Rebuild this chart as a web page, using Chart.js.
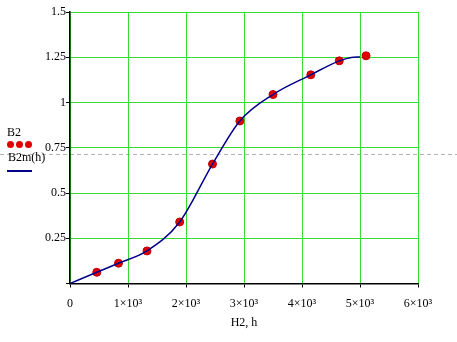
<!DOCTYPE html>
<html>
<head>
<meta charset="utf-8">
<script src="https://cdn.jsdelivr.net/npm/chart.js@4.4.1/dist/chart.umd.min.js"></script>
<style>
  body { margin: 0; background: #fff; }
  #wrap { position: relative; width: 457px; height: 342px; }
  #chart { position: absolute; left: 0; top: 0; }
  .lbl { position: absolute; font: 12px 'Liberation Serif', serif; color: #000; line-height: 12px; }
  .dot { position: absolute; width: 7px; height: 7px; border-radius: 50%; background: #e00000; }
  #pagebreak { position: absolute; left: 0; top: 154px; width: 457px; height: 1px;
    background: repeating-linear-gradient(to right, #b4b4b4 0 4px, transparent 4px 7px); }
  #curveKey { position: absolute; left: 7px; top: 170px; width: 25px; height: 1.5px; background: #00008b; }
</style>
</head>
<body>
<div id="wrap">
  <div id="pagebreak"></div>
  <canvas id="chart" width="457" height="342"></canvas>
  <div class="lbl" style="left:7px;top:126px;">B2</div>
  <div class="dot" style="left:7px;top:141px;"></div>
  <div class="dot" style="left:16px;top:141px;"></div>
  <div class="dot" style="left:25px;top:141px;"></div>
  <div class="lbl" style="left:8px;top:151px;">B2m(h)</div>
  <div id="curveKey"></div>
</div>
<script>
// measured points B2 vs H2
const h2 = [462, 836, 1327, 1891, 2457, 2929, 3500, 4152, 4642, 5104];
const b2 = [0.062, 0.112, 0.18, 0.34, 0.66, 0.898, 1.044, 1.153, 1.23, 1.258];

// fitted curve B2m(h)
const curveH = [0, 462, 836, 1327, 1891, 2457, 2929, 3500, 4152, 4642, 4850, 5000];
const curveB = [0, 0.062, 0.112, 0.18, 0.34, 0.66, 0.898, 1.044, 1.153, 1.23, 1.249, 1.252];

const xTickLabels = ['0', '1×10³', '2×10³', '3×10³', '4×10³', '5×10³', '6×10³'];
const yTickLabels = ['', '0.25', '0.5', '0.75', '1', '1.25', '1.5'];

const serif = { family: "'Liberation Serif', serif", size: 12 };

new Chart(document.getElementById('chart').getContext('2d'), {
    type: 'scatter',
    data: {
        datasets: [{
            label: 'B2m(h)',
            data: curveH.map((h, i) => ({ x: h, y: curveB[i] })),
            showLine: true,
            borderColor: '#00008b',
            borderWidth: 1.5,
            pointRadius: 0,
            cubicInterpolationMode: 'monotone'
        }, {
            label: 'B2',
            data: h2.map((h, i) => ({ x: h, y: b2[i] })),
            pointRadius: 4,
            pointBackgroundColor: '#e00000',
            pointBorderColor: '#c00000',
            pointBorderWidth: 1
        }]
    },
    options: {
        responsive: false,
        animation: false,
        layout: { padding: { left: 0, right: 39, top: 12, bottom: 12 } },
        plugins: { legend: { display: false }, tooltip: { enabled: false } },
        scales: {
            x: {
                type: 'linear',
                min: 0, max: 6000,
                afterBuildTicks: s => { s.ticks = xTickLabels.map((t, i) => ({ value: i * 1000 })); },
                afterFit: s => { s.height = 46.5; },
                ticks: { color: '#000', font: serif, padding: 9, maxRotation: 0,
                    callback: (v, i) => xTickLabels[i] },
                grid: { color: '#33dd33', lineWidth: 1, tickColor: '#000', tickLength: 4 },
                border: { color: '#000', width: 1.5 },
                title: { display: true, text: 'H2, h', color: '#000', font: serif, padding: { top: 4, bottom: 0 } }
            },
            y: {
                min: 0, max: 1.5,
                afterBuildTicks: s => { s.ticks = yTickLabels.map((t, i) => ({ value: i * 0.25 })); },
                afterFit: s => { s.width = 70; },
                ticks: { color: '#000', font: serif, padding: 0,
                    callback: (v, i) => yTickLabels[i] },
                grid: { color: '#33dd33', lineWidth: 1, tickColor: '#000', tickLength: 4 },
                border: { color: '#000', width: 1.5 }
            }
        }
    }
});
</script>
</body>
</html>
